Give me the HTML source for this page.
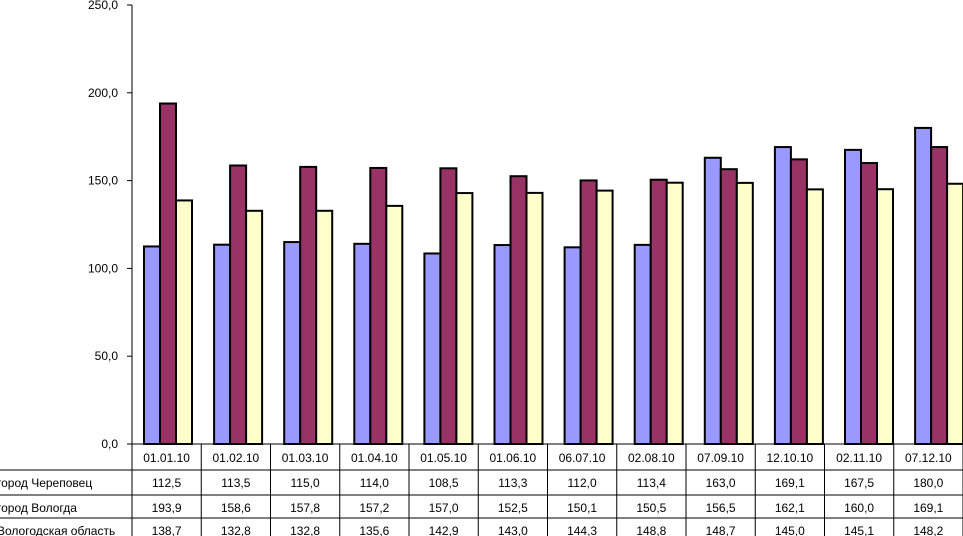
<!DOCTYPE html>
<html><head><meta charset="utf-8"><style>
body{margin:0;background:#fff;width:963px;height:536px;overflow:hidden}
svg{display:block;font-family:"Liberation Sans",Arial,sans-serif}
</style></head><body>
<svg id="c" width="963" height="536"></svg>
<script>
const categories=["01.01.10","01.02.10","01.03.10","01.04.10","01.05.10","01.06.10","06.07.10","02.08.10","07.09.10","12.10.10","02.11.10","07.12.10"];
const seriesNames=["город Череповец","город Вологда","Вологодская область"];
const cherepovets=[112.5,113.5,115.0,114.0,108.5,113.3,112.0,113.4,163.0,169.1,167.5,180.0];
const vologda=[193.9,158.6,157.8,157.2,157.0,152.5,150.1,150.5,156.5,162.1,160.0,169.1];
const oblast=[138.7,132.8,132.8,135.6,142.9,143.0,144.3,148.8,148.7,145.0,145.1,148.2];
const yTicks=[0,50,100,150,200,250];
const colors=["#9999ff","#993366","#ffffcc"];
const svg=document.getElementById('c');const NS="http://www.w3.org/2000/svg";
function mk(t,a,p){const e=document.createElementNS(NS,t);for(const k in a)e.setAttribute(k,a[k]);(p||svg).appendChild(e);return e;}
const y0=444,yTop=5,x0=132;
const y=v=>y0-(v/250)*(y0-yTop);
const barX=(i,s)=>144+i*70.1+s*16;
const colX=i=>x0+i*69.25;
const fmt=v=>v.toFixed(1).replace('.',',');
// axis
let ax=mk('line',{x1:x0,y1:yTop,x2:x0,y2:y0,stroke:'#000'});

yTicks.forEach(t=>{
 let l=mk('line',{x1:x0-5,x2:x0,y1:y(t),y2:y(t),stroke:'#000'});
 
 let tx=mk('text',{x:x0-14,y:y(t)+4,'text-anchor':'end','font-size':12});
 tx.textContent=fmt(t);
 
});
// bars
[cherepovets,vologda,oblast].forEach((arr,s)=>{
 arr.forEach((v,i)=>{
  let r=mk('rect',{x:barX(i,s),y:y(v),width:16,height:y0-y(v),fill:colors[s],stroke:'#000','stroke-width':2});
  
 });
});
// table
const rows=[470,495,518,536];
mk('line',{x1:x0,y1:y0,x2:963,y2:y0,stroke:'#000'});
rows.slice(0,3).forEach(ry=>mk('line',{x1:0,y1:ry,x2:963,y2:ry,stroke:'#000'}));
for(let i=0;i<=12;i++){mk('line',{x1:colX(i),y1:y0,x2:colX(i),y2:536,stroke:'#000'});}
categories.forEach((c,i)=>{
 let t=mk('text',{x:colX(i)+34.6,y:462,'text-anchor':'middle','font-size':12});
 t.textContent=c;
 
});
[cherepovets,vologda,oblast].forEach((arr,s)=>{
 let lt=mk('text',{x:-3,y:rows[s]+17,'font-size':12});
 lt.textContent=seriesNames[s];
 
 arr.forEach((v,i)=>{
  let t=mk('text',{x:colX(i)+34.6,y:rows[s]+17,'text-anchor':'middle','font-size':12});
  t.textContent=fmt(v);
  
 });
});
</script>
</body></html>
